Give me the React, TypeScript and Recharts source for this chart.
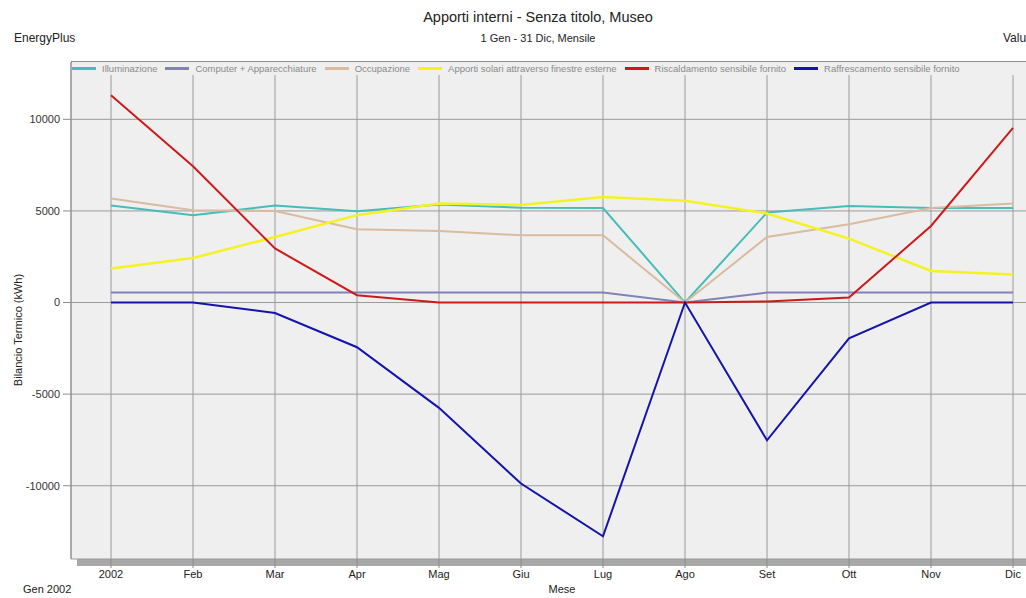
import { LineChart, Line, XAxis, YAxis, CartesianGrid, Legend } from 'recharts';

const months = ['2002', 'Feb', 'Mar', 'Apr', 'Mag', 'Giu', 'Lug', 'Ago', 'Set', 'Ott', 'Nov', 'Dic'];

const illuminazione = [5300, 4760, 5290, 4980, 5350, 5180, 5160, 0, 4910, 5270, 5160, 5160];
const computer = [545, 545, 545, 545, 545, 545, 545, 0, 545, 545, 545, 545];
const occupazione = [5680, 5040, 5000, 4000, 3910, 3670, 3670, 0, 3580, 4270, 5160, 5400];
const solari = [1860, 2430, 3580, 4770, 5400, 5330, 5760, 5550, 4860, 3490, 1720, 1530];
const riscaldamento = [11310, 7440, 2950, 400, 0, 0, 0, 0, 60, 270, 4180, 9530];
const raffrescamento = [0, 0, -570, -2440, -5750, -9880, -12760, 0, -7520, -1960, 0, 0];

const yTicks = [-10000, -5000, 0, 5000, 10000];

const data = months.map((m, i) => ({
  month: m,
  illuminazione: illuminazione[i],
  computer: computer[i],
  occupazione: occupazione[i],
  solari: solari[i],
  riscaldamento: riscaldamento[i],
  raffrescamento: raffrescamento[i],
}));

const series = [
  { key: 'illuminazione', name: 'Illuminazione', color: '#45bdb8', width: 2 },
  { key: 'computer', name: 'Computer +  Apparecchiature', color: '#8282bb', width: 2 },
  { key: 'occupazione', name: 'Occupazione', color: '#d9bba0', width: 2 },
  { key: 'solari', name: 'Apporti solari attraverso finestre esterne', color: '#f5f222', width: 2.5 },
  { key: 'riscaldamento', name: 'Riscaldamento sensibile fornito', color: '#cc1a1a', width: 2 },
  { key: 'raffrescamento', name: 'Raffrescamento sensibile fornito', color: '#1414aa', width: 2 },
];

const narrow = '"Liberation Sans Narrow", "Arial Narrow", Arial, sans-serif';
const sans = '"Liberation Sans", Arial, sans-serif';

// legend keeps the series order (recharts would sort it by name)
function LegendRow() {
  return (
    <div style={{ display: 'flex', alignItems: 'center', height: 13, background: '#efefef', fontFamily: narrow, fontSize: 9.5, color: '#8a8a8a', whiteSpace: 'nowrap' }}>
      {series.map((s) => (
        <span key={s.key} style={{ display: 'flex', alignItems: 'center', marginRight: 8 }}>
          <span style={{ display: 'inline-block', width: 24, height: 3, background: s.color, marginRight: 6 }} />
          {s.name}
        </span>
      ))}
    </div>
  );
}

export default function App() {
  return (
    <div style={{ position: 'fixed', left: 0, top: 0, width: 1026, height: 598, overflow: 'hidden', background: '#fff', fontFamily: narrow }}>
      <div style={{ position: 'absolute', left: 0, width: 1076, top: 9, textAlign: 'center', fontSize: 14.5, color: '#222' }}>
        Apporti interni - Senza titolo, Museo
      </div>
      <div style={{ position: 'absolute', left: 0, width: 1076, top: 32, textAlign: 'center', fontSize: 11, color: '#222' }}>
        1 Gen - 31 Dic, Mensile
      </div>
      <div style={{ position: 'absolute', left: 14, top: 31, fontSize: 12, color: '#222' }}>EnergyPlus</div>
      <div style={{ position: 'absolute', left: 1003, top: 31, fontSize: 12, color: '#222' }}>Valutazione</div>
      <div style={{ position: 'absolute', left: 18, top: 330, transform: 'translate(-50%, -50%) rotate(-90deg)', fontFamily: sans, fontSize: 11, color: '#222', whiteSpace: 'nowrap' }}>
        Bilancio Termico (kWh)
      </div>
      <div style={{ position: 'absolute', left: 562, top: 583, transform: 'translateX(-50%)', fontSize: 11, color: '#222' }}>Mese</div>
      <div style={{ position: 'absolute', left: 23, top: 583, fontSize: 11, color: '#222' }}>Gen 2002</div>
      {/* drop shadow under the plot area */}
      <div style={{ position: 'absolute', left: 77, top: 559, width: 1000, height: 7, background: '#a8a8a8' }} />
      <div style={{ position: 'absolute', left: 0, top: 0 }}>
        <LineChart width={1066} height={598} data={data} margin={{ top: 49, right: 13, left: 0, bottom: 9 }}>
          <CartesianGrid stroke="#9a9a9a" fill="#efefef" fillOpacity={1} />
          <XAxis
            dataKey="month"
            height={30}
            padding={{ left: 40, right: 40 }}
            axisLine={false}
            tickLine={{ stroke: '#8c8c8c' }}
            tickSize={9}
            tickMargin={2}
            interval={0}
            tick={{ fill: '#222', fontSize: 11, fontFamily: narrow }}
          />
          <YAxis
            width={71}
            domain={[-14000, 13130]}
            ticks={yTicks}
            allowDataOverflow
            axisLine={{ stroke: '#8c8c8c' }}
            tickLine={{ stroke: '#8c8c8c' }}
            tickSize={8}
            tickMargin={3}
            tick={{ fill: '#333', fontSize: 11, fontFamily: sans }}
          />
          <Legend
            verticalAlign="top"
            align="left"
            height={13}
            content={<LegendRow />}
            wrapperStyle={{ top: 62, left: 72, width: 1000 }}
          />
          {series.map((s) => (
            <Line
              key={s.key}
              type="linear"
              dataKey={s.key}
              name={s.name}
              stroke={s.color}
              strokeWidth={s.width}
              dot={false}
              activeDot={false}
              isAnimationActive={false}
            />
          ))}
        </LineChart>
      </div>
      <div style={{ position: 'absolute', left: 71, top: 61, width: 1000, height: 1, background: '#8c8c8c' }} />
    </div>
  );
}
